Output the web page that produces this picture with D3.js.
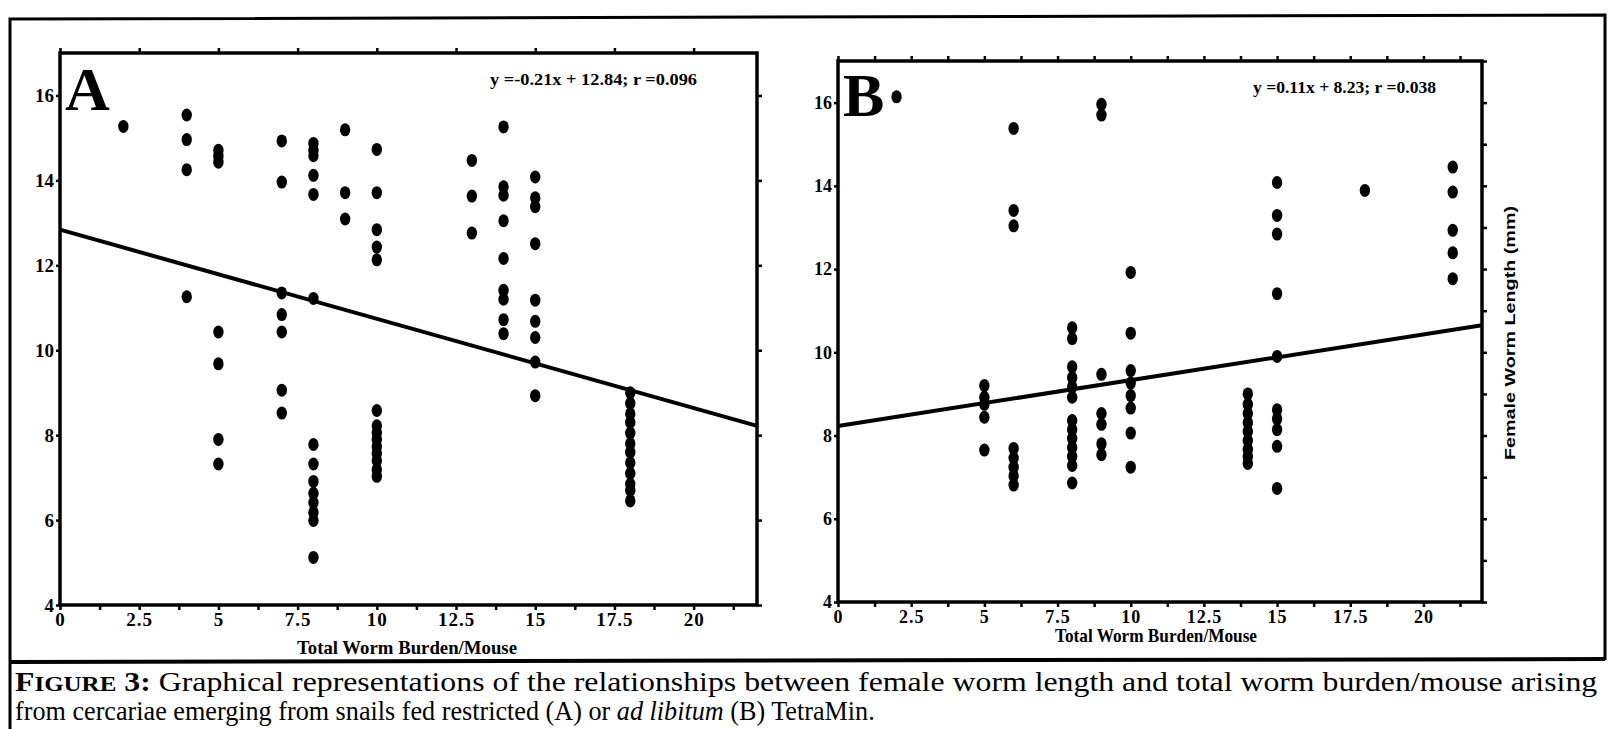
<!DOCTYPE html>
<html>
<head>
<meta charset="utf-8">
<script src="https://cdn.jsdelivr.net/npm/d3@7"></script>
<style>
  body { margin: 0; background: #fff; }
  svg { display: block; }
  .tick text { font-family: "Liberation Serif", serif; font-weight: bold; fill: #000; }
  .tick line { stroke: #000; stroke-width: 2.5; }
</style>
</head>
<body>
<svg id="fig" width="1608" height="729"></svg>
<script>
// values
// [worm burden per mouse, female worm length (mm)]
const pointsA = [
  [2,15.27],
  [4,15.54],[4,14.96],[4,14.25],[4,11.26],
  [5,14.71],[5,14.57],[5,14.43],[5,10.43],[5,9.68],[5,7.9],[5,7.32],
  [7,14.93],[7,13.96],[7,11.35],[7,10.84],[7,10.43],[7,9.06],[7,8.52],
  [8,14.87],[8,14.71],[8,14.58],[8,14.12],[8,13.67],[8,11.22],[8,7.78],[8,7.32],[8,6.91],[8,6.63],[8,6.41],[8,6.18],[8,5.99],[8,5.12],
  [9,15.19],[9,13.71],[9,13.09],
  [10,14.73],[10,13.71],[10,12.84],[10,12.43],[10,12.13],[10,8.58],[10,8.22],[10,8.06],[10,7.9],[10,7.73],[10,7.57],[10,7.4],[10,7.19],[10,7.03],
  [13,14.47],[13,13.63],[13,12.76],
  [14,15.26],[14,13.85],[14,13.65],[14,13.05],[14,12.16],[14,11.41],[14,11.2],[14,10.72],[14,10.39],
  [15,14.08],[15,13.59],[15,13.38],[15,12.51],[15,11.18],[15,10.68],[15,10.3],[15,9.72],[15,8.93],
  [18,9.0],[18,8.75],[18,8.5],[18,8.3],[18,8.05],[18,7.8],[18,7.6],[18,7.35],[18,7.1],[18,6.85],[18,6.7],[18,6.45]
]
const pointsB = [
  [2,16.14],
  [5,9.2],[5,8.92],[5,8.75],[5,8.44],[5,7.65],
  [6,15.38],[6,13.41],[6,13.04],[6,7.69],[6,7.46],[6,7.24],[6,7.03],[6,6.81],
  [8,10.59],[8,10.33],[8,9.65],[8,9.39],[8,9.17],[8,8.92],[8,8.36],[8,8.14],[8,7.93],[8,7.71],[8,7.5],[8,7.28],[8,6.86],
  [9,15.96],[9,15.7],[9,9.47],[9,8.53],[9,8.27],[9,7.8],[9,7.54],
  [10,11.92],[10,10.46],[10,9.56],[10,9.26],[10,8.96],[10,8.66],[10,8.06],[10,7.24],
  [14,9.0],[14,8.75],[14,8.53],[14,8.31],[14,8.1],[14,7.88],[14,7.67],[14,7.5],[14,7.33],
  [15,14.08],[15,13.29],[15,12.84],[15,11.41],[15,9.9],[15,8.62],[15,8.4],[15,8.14],[15,7.74],[15,6.73],
  [18,13.89],
  [21,14.45],[21,13.85],[21,12.93],[21,12.39],[21,11.77]
]
// slope, intercept of the fitted lines
const fitA = [-0.21, 12.84]
const fitB = [0.11, 8.23]
const eqA = "y =-0.21x + 12.84; r =0.096"
const eqB = "y =0.11x + 8.23; r =0.038"
const xDomain = [0, 22]
const yDomain = [4, 17]
const xTickLabels = [0, 2.5, 5, 7.5, 10, 12.5, 15, 17.5, 20]
const yTickLabels = [4, 6, 8, 10, 12, 14, 16]
const xTitle = "Total Worm Burden/Mouse"
const yTitle = "Female Worm Length (mm)"

const svg = d3.select("#fig")
const serif = "'Liberation Serif', 'Times New Roman', serif"

// outer figure box
svg.append("path")
  .attr("d", "M10,731 L10,19 L1605,15 L1605,660")
  .attr("fill", "none").attr("stroke", "#000").attr("stroke-width", 3)
svg.append("line")
  .attr("x1", 10).attr("x2", 1605).attr("y1", 662).attr("y2", 659)
  .attr("stroke", "#000").attr("stroke-width", 4)
svg.append("line")
  .attr("x1", 1528).attr("x2", 1605).attr("y1", 731).attr("y2", 730)
  .attr("stroke", "#000").attr("stroke-width", 2)

function drawPanel(box, pts, fit, eq, letter, opts) {
  const x = d3.scaleLinear().domain(xDomain).range([box.left, box.right])
  const y = d3.scaleLinear().domain(yDomain).range([box.bottom, box.top])
  const g = svg.append("g")

  // bottom axis, minor ticks every 1.25, labels every 2.5
  const bottomTicks = d3.range(0, xDomain[1] + 0.01, 1.25)
  g.append("g")
    .attr("transform", `translate(0,${box.bottom})`)
    .call(d3.axisBottom(x).tickValues(bottomTicks).tickSize(5).tickPadding(3)
      .tickFormat(d => xTickLabels.includes(d) ? d3.format("")(d) : ""))
    .call(a => a.select(".domain").remove())
    .call(a => a.selectAll("text").attr("font-size", opts.tickFont).attr("letter-spacing", 1))

  // top axis
  g.append("g")
    .attr("transform", `translate(0,${box.top})`)
    .call(d3.axisTop(x).tickValues(d3.range(0, xDomain[1] + 0.01, opts.topStep)).tickSize(5).tickFormat(""))
    .call(a => a.select(".domain").remove())

  // left axis with labels
  g.append("g")
    .attr("transform", `translate(${box.left},0)`)
    .call(d3.axisLeft(y).tickValues(yTickLabels).tickSize(4).tickPadding(opts.labelPad))
    .call(a => a.select(".domain").remove())
    .call(a => a.selectAll("text").attr("font-size", opts.tickFont))

  // right axis ticks
  g.append("g")
    .attr("transform", `translate(${box.right},0)`)
    .call(d3.axisRight(y).tickValues(d3.range(yDomain[0], yDomain[1] + 0.01, opts.rightStep)).tickSize(5).tickFormat(""))
    .call(a => a.select(".domain").remove())

  // frame
  g.append("rect")
    .attr("x", box.left).attr("y", box.top)
    .attr("width", box.right - box.left).attr("height", box.bottom - box.top)
    .attr("fill", "none").attr("stroke", "#000").attr("stroke-width", 3.5)

  // points
  g.append("g").selectAll("ellipse")
    .data(pts)
    .join("ellipse")
    .attr("cx", d => x(d[0]))
    .attr("cy", d => y(d[1]))
    .attr("rx", 5.2).attr("ry", 6.5)
    .attr("fill", "#000")

  // fitted line
  const line = d3.line().x(d => x(d)).y(d => y(fit[0] * d + fit[1]))
  g.append("path")
    .attr("d", line(xDomain))
    .attr("fill", "none").attr("stroke", "#000").attr("stroke-width", 4)

  g.append("text")
    .attr("x", box.left + 5).attr("y", box.top + opts.letterDy)
    .attr("font-family", serif).attr("font-weight", "bold").attr("font-size", 62)
    .text(letter)

  g.append("text")
    .attr("x", opts.eqX).attr("y", box.top + 32)
    .attr("font-family", serif).attr("font-weight", "bold").attr("font-size", 17)
    .attr("textLength", opts.eqLen).attr("lengthAdjust", "spacingAndGlyphs")
    .text(eq)

  g.append("text")
    .attr("x", opts.titleX).attr("y", opts.titleY)
    .attr("text-anchor", "middle")
    .attr("font-family", serif).attr("font-weight", "bold").attr("font-size", 19)
    .attr("textLength", opts.titleLen).attr("lengthAdjust", "spacingAndGlyphs")
    .text(xTitle)
  return { x, y }
}

drawPanel({ left: 60, right: 757, top: 53, bottom: 605 }, pointsA, fitA, eqA, "A",
  { topStep: 2.5, rightStep: 2, labelPad: 2, tickFont: 19, letterDy: 57, eqX: 490, eqLen: 207, titleX: 407, titleY: 654, titleLen: 220 })
drawPanel({ left: 838, right: 1482, top: 61, bottom: 602 }, pointsB, fitB, eqB, "B",
  { topStep: 1.25, rightStep: 1, labelPad: 2, tickFont: 18, letterDy: 55, eqX: 1253, eqLen: 183, titleX: 1156, titleY: 642, titleLen: 202 })

// right-hand y title of panel B
svg.append("text")
  .attr("transform", "translate(1515,333) rotate(-90)")
  .attr("text-anchor", "middle")
  .attr("font-family", "'Liberation Sans', Arial, sans-serif").attr("font-weight", "bold").attr("font-size", 14)
  .attr("textLength", 254).attr("lengthAdjust", "spacingAndGlyphs")
  .text(yTitle)

// caption: condensed serif, squeezed horizontally to the widths in the scan
function captionLine(yPos, width, parts) {
  const t = svg.append("text")
    .attr("font-family", serif).attr("font-size", 28)
  parts.forEach(p => {
    const s = t.append("tspan").text(p.text)
    if (p.bold) s.attr("font-weight", "bold")
    if (p.italic) s.attr("font-style", "italic")
    if (p.size) s.attr("font-size", p.size)
  })
  const len = t.node().getComputedTextLength()
  t.attr("transform", `translate(15,${yPos}) scale(${width / len},1)`)
}
captionLine(691, 1583, [
  { text: "F", bold: true },
  { text: "IGURE", bold: true, size: 22 },
  { text: " 3:", bold: true },
  { text: " Graphical representations of the relationships between female worm length and total worm burden/mouse arising" }
])
captionLine(720, 860, [
  { text: "from cercariae emerging from snails fed restricted (A) or " },
  { text: "ad libitum", italic: true },
  { text: " (B) TetraMin." }
])
</script>
</body>
</html>
